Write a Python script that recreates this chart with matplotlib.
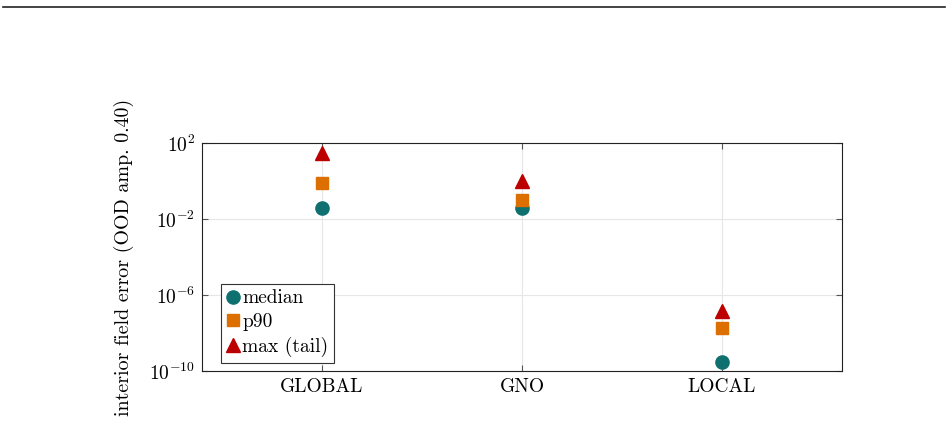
import matplotlib
matplotlib.use('Agg')
import matplotlib.pyplot as plt
from matplotlib.lines import Line2D
from matplotlib.ticker import FixedLocator, NullLocator

plt.rcParams['font.family'] = ['cmr10', 'DejaVu Serif']
plt.rcParams['mathtext.fontset'] = 'cm'
plt.rcParams['axes.formatter.use_mathtext'] = True
plt.rcParams['font.size'] = 14

# data
methods = ['GLOBAL', 'GNO', 'LOCAL']
median = [0.038, 0.040, 3.0e-10]
p90 = [0.78, 0.10, 1.9e-8]
max_tail = [30.0, 1.0, 1.4e-7]

teal = '#0f7070'
orange = '#dc6f00'
red = '#bc0000'

fig = plt.figure(figsize=(9.48, 4.21), dpi=100)
ax = fig.add_axes([202 / 948, 50 / 421, 640 / 948, 228 / 421])

x = list(range(len(methods)))
ax.plot(x, median, 'o', color=teal, markersize=9.5, label='median', zorder=3)
ax.plot(x, p90, 's', color=orange, markersize=8.5, label='p90', zorder=3)
ax.plot(x, max_tail, '^', color=red, markersize=9.5, label='max (tail)', zorder=3)

ax.set_yscale('log')
ax.set_ylim(1e-10, 1e2)
ax.set_xlim(-0.6, 2.6)
ax.yaxis.set_major_locator(FixedLocator([1e-10, 1e-6, 1e-2, 1e2]))
ax.yaxis.set_minor_locator(NullLocator())
ax.set_xticks(x)
ax.set_xticklabels(methods)

ax.grid(True, color='#e6e6e6', linewidth=0.8, zorder=0)
ax.set_axisbelow(True)
ax.tick_params(direction='in', top=True, right=True, length=4, color='#555555',
               labelsize=14, pad=5)
for s in ax.spines.values():
    s.set_linewidth(0.8)
    s.set_color('#222222')

ax.set_ylabel('interior field error (OOD amp. 0.40)', fontsize=14.4, labelpad=11)

leg = ax.legend(loc='lower left', bbox_to_anchor=(19 / 640, 8 / 228), borderaxespad=0,
                fancybox=False, edgecolor='#333333', framealpha=1, handlelength=0.6,
                handletextpad=0.2, borderpad=0.3, labelspacing=0.3, fontsize=14)
leg.get_frame().set_linewidth(0.8)

fig.add_artist(Line2D([3 / 948, 945 / 948], [1 - 7 / 421, 1 - 7 / 421], color='#222222', linewidth=1.2))

fig.savefig('out.png', dpi=100)
